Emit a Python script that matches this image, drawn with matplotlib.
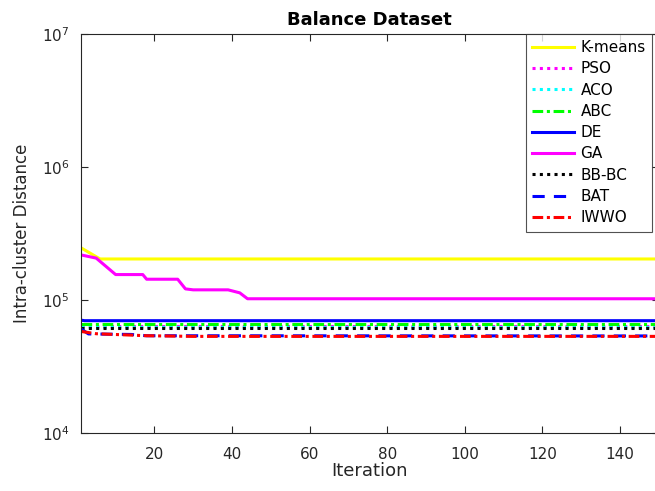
import matplotlib.pyplot as plt
from matplotlib.ticker import FixedLocator, FixedFormatter, NullLocator

plt.rcParams['font.family'] = ['DejaVu Sans']

# convergence curves: (iteration, best intra-cluster distance) breakpoints
kmeans_it = [1, 6, 150]
kmeans_val = [2.47e5, 2.03e5, 2.03e5]

pso_it = [1, 150]
pso_val = [6.40e4, 6.40e4]

aco_it = [1, 150]
aco_val = [6.28e4, 6.28e4]

abc_it = [1, 150]
abc_val = [6.63e4, 6.63e4]

de_it = [1, 2, 150]
de_val = [7.05e4, 6.98e4, 6.98e4]

ga_it = [1, 5, 10, 17, 18, 26, 28, 30, 39, 42, 44, 150]
ga_val = [2.18e5, 2.06e5, 1.55e5, 1.55e5, 1.43e5, 1.43e5, 1.21e5, 1.19e5,
          1.19e5, 1.13e5, 1.02e5, 1.02e5]

bbbc_it = [1, 150]
bbbc_val = [6.12e4, 6.12e4]

bat_it = [1, 3, 14, 18, 150]
bat_val = [6.08e4, 5.55e4, 5.50e4, 5.38e4, 5.36e4]

iwwo_it = [1, 5, 18, 30, 150]
iwwo_val = [5.80e4, 5.57e4, 5.38e4, 5.32e4, 5.32e4]

fig = plt.figure(figsize=(6.55, 4.91), dpi=100)
ax = fig.add_axes([80.7 / 655, 58 / 491, 578 / 655, 399.3 / 491])

dot = (1, 1.4)
dashdot = (3.5, 1.2, 1, 1.2)
ax.plot(kmeans_it, kmeans_val, color='#ffff00', lw=2.2, label='K-means')
ax.plot(pso_it, pso_val, color='#ff00ff', lw=2.2, dashes=dot, label='PSO')
ax.plot(aco_it, aco_val, color='#00ffff', lw=2.2, dashes=dot, label='ACO')
ax.plot(abc_it, abc_val, color='#00ff00', lw=2.2, dashes=dashdot, label='ABC')
ax.plot(de_it, de_val, color='#0000ff', lw=2.2, label='DE')
ax.plot(ga_it, ga_val, color='#ff00ff', lw=2.2, label='GA')
ax.plot(bbbc_it, bbbc_val, color='black', lw=2.2, dashes=dot, label='BB-BC')
ax.plot(bat_it, bat_val, color='#0000ff', lw=2.2, dashes=(4, 3), label='BAT')
ax.plot(iwwo_it, iwwo_val, color='#ff0000', lw=2.2, dashes=dashdot, label='IWWO')

ax.set_yscale('log')
ax.set_ylim(1e4, 1e7)
ax.set_xlim(1, 150)
ax.yaxis.set_major_locator(FixedLocator([1e4, 1e5, 1e6, 1e7]))
ax.yaxis.set_major_formatter(FixedFormatter(['$10^4$', '$10^5$', '$10^6$', '$10^7$']))
ax.yaxis.set_minor_locator(NullLocator())
ax.set_xticks([20, 40, 60, 80, 100, 120, 140])

ax.tick_params(direction='in', top=True, right=True, labelsize=11, length=5,
               width=0.8, colors='#262626')
ax.tick_params(axis='x', pad=10)
ax.tick_params(axis='y', pad=8)
for s in ax.spines.values():
    s.set_color('#262626')
    s.set_linewidth(0.8)

ax.set_title('Balance Dataset', fontsize=13, fontweight='bold', pad=6)
ax.set_xlabel('Iteration', fontsize=13, color='#262626', labelpad=0)
ax.set_ylabel('Intra-cluster Distance', fontsize=12, color='#262626', labelpad=8)

leg = ax.legend(loc='upper left', bbox_to_anchor=((526 - 80.7) / 578, 1.0),
                fontsize=11, frameon=True, fancybox=False, edgecolor='#262626',
                handlelength=2.75, handletextpad=0.4, labelspacing=0.41,
                borderpad=0.42, borderaxespad=0)
leg.get_frame().set_linewidth(0.8)

fig.savefig('out.png', dpi=100)
